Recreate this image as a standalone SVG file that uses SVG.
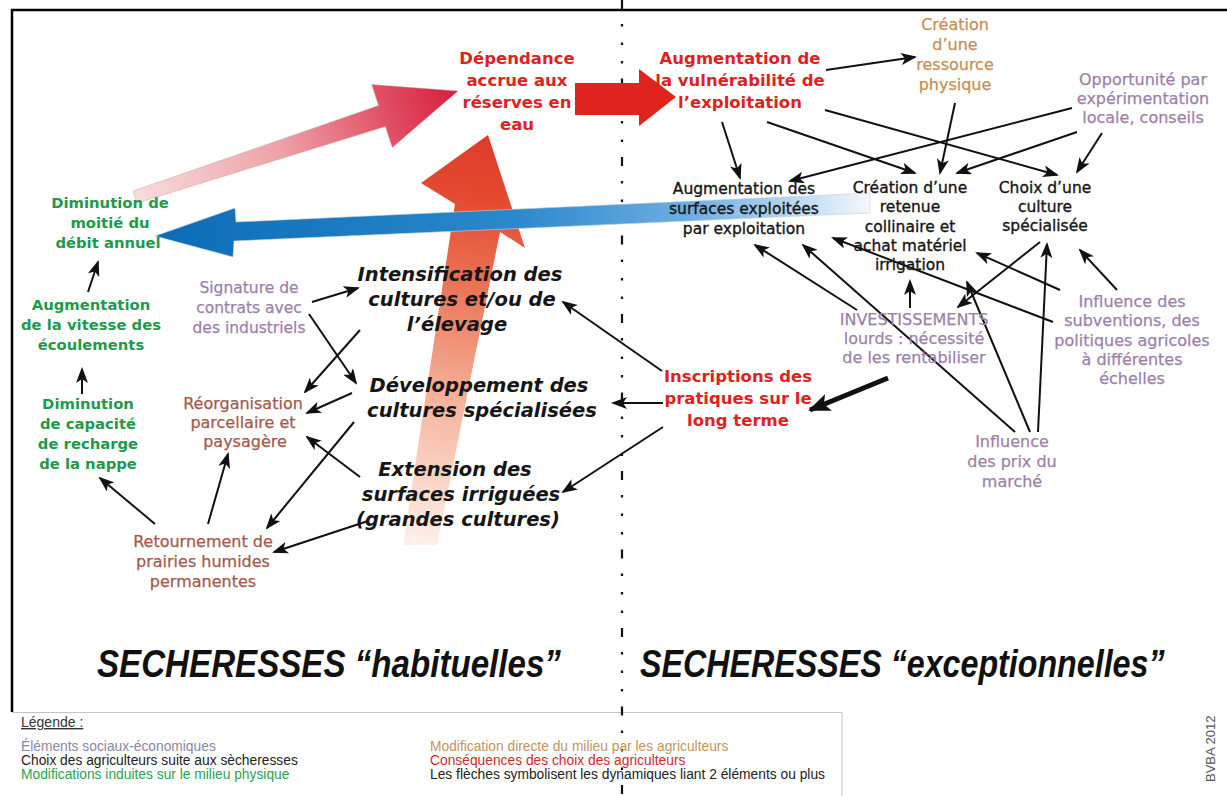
<svg xmlns="http://www.w3.org/2000/svg" width="1227" height="796" viewBox="0 0 1227 796">
<defs>
<style>
text{font-family:"DejaVu Sans","Liberation Sans",sans-serif;text-anchor:middle}
.red{font-size:16.5px;font-weight:bold;fill:#e0221f}
.blk{font-size:15.5px;fill:#161616;stroke:#161616;stroke-width:0.35}
.pur{font-size:16px;fill:#9d7fa9;stroke:#9d7fa9;stroke-width:0.25}
.tan{font-size:16px;fill:#c98d52;stroke:#c98d52;stroke-width:0.25}
.grn{font-size:14.8px;font-weight:bold;fill:#1e9a4c}
.brn{font-size:16px;fill:#a5584a;stroke:#a5584a;stroke-width:0.25}
.ital{font-size:19.5px;font-weight:bold;font-style:italic;fill:#161616}
.title{font-family:"Liberation Sans",sans-serif;font-size:38px;font-weight:bold;font-style:italic;fill:#111;text-anchor:start}
.leg{font-family:"Liberation Sans",sans-serif;font-size:13.8px;text-anchor:start}
</style>
<marker id="ah" viewBox="0 0 16 12" refX="14" refY="6" markerWidth="16" markerHeight="12" markerUnits="userSpaceOnUse" orient="auto"><path d="M0,0 L16,6 L0,12 L4,6 z" fill="#111" stroke="none"/></marker>
<marker id="ahT" viewBox="0 0 22 18" refX="20" refY="9" markerWidth="22" markerHeight="18" markerUnits="userSpaceOnUse" orient="auto"><path d="M0,0 L22,9 L0,18 L5,9 z" fill="#111" stroke="none"/></marker>
<linearGradient id="pinkG" gradientUnits="userSpaceOnUse" x1="135" y1="197" x2="458" y2="91">
<stop offset="0" stop-color="#f8dcdc"/><stop offset="0.45" stop-color="#eda2a8"/><stop offset="0.8" stop-color="#e04a60"/><stop offset="1" stop-color="#d81d3d"/>
</linearGradient>
<linearGradient id="upG" gradientUnits="userSpaceOnUse" x1="420" y1="545" x2="488" y2="135">
<stop offset="0" stop-color="#fdf0ea"/><stop offset="0.35" stop-color="#f5b49c"/><stop offset="0.65" stop-color="#ea7052"/><stop offset="0.85" stop-color="#e34a30"/><stop offset="1" stop-color="#e03a28"/>
</linearGradient>
<linearGradient id="blueG" gradientUnits="userSpaceOnUse" x1="155" y1="0" x2="870" y2="0">
<stop offset="0" stop-color="#0b6cb6"/><stop offset="0.5" stop-color="#2a88cc"/><stop offset="0.75" stop-color="#6eaee2"/><stop offset="0.9" stop-color="#bcdaf2"/><stop offset="1" stop-color="#f4f8fc"/>
</linearGradient>
</defs>
<rect width="1227" height="796" fill="#fff"/>
<path d="M12,712 V10 H1227" fill="none" stroke="#000" stroke-width="2.5"/>
<path d="M12,712.5 H842 V796" fill="none" stroke="#c4c4c4" stroke-width="1"/>
<line x1="622" y1="0" x2="622" y2="796" stroke="#111" stroke-width="2.2" stroke-dasharray="9 15 2.5 16 2.5 16 2.5 15"/>

<g id="big-arrows">
<polygon points="133,191 378.6,105.5 371.7,84.6 458,91 392.3,147.4 385.4,126.5 137,203" fill="url(#pinkG)" stroke="#c9a0a0" stroke-width="0.5"/>
<polygon points="575,83 639,83 639,69 676,97 639,126 639,115 575,115" fill="#df231e"/>
<polygon points="403,545 455,204 421,183 488,135 525,248 500,232 437,545" fill="url(#upG)"/>
<polygon points="870,193 236,222 235,208 155,236 233,257 234,241 870,213" fill="url(#blueG)" stroke="#c8d2dc" stroke-width="0.6"/>
</g>

<g id="connectors" stroke="#111" stroke-width="2" marker-end="url(#ah)" fill="none">
<line x1="88" y1="292" x2="98" y2="262"/>
<line x1="82" y1="394" x2="82" y2="369"/>
<line x1="155" y1="524" x2="100" y2="478"/>
<line x1="208" y1="524" x2="228" y2="454"/>
<line x1="312" y1="302" x2="358" y2="288"/>
<line x1="309" y1="314" x2="356" y2="383"/>
<line x1="360" y1="330" x2="305" y2="392"/>
<line x1="352" y1="393" x2="307" y2="413"/>
<line x1="354" y1="422" x2="267" y2="528"/>
<line x1="360" y1="477" x2="307" y2="437"/>
<line x1="368" y1="521" x2="274" y2="552"/>
<line x1="662" y1="371" x2="563" y2="302"/>
<line x1="663" y1="403" x2="613" y2="403"/>
<line x1="663" y1="427" x2="563" y2="492"/>
<line x1="888" y1="378" x2="810" y2="410" stroke-width="5" marker-end="url(#ahT)"/>
<line x1="826" y1="70" x2="915" y2="57"/>
<line x1="722" y1="122" x2="740" y2="178"/>
<line x1="767" y1="122" x2="915" y2="173"/>
<line x1="825" y1="110" x2="1057" y2="175"/>
<line x1="955" y1="103" x2="940" y2="173"/>
<line x1="1072" y1="108" x2="790" y2="181"/>
<line x1="1077" y1="132" x2="957" y2="173"/>
<line x1="1102" y1="133" x2="1077" y2="172"/>
<line x1="857" y1="310" x2="755" y2="245"/>
<line x1="1015" y1="432" x2="803" y2="245"/>
<line x1="1053" y1="322" x2="833" y2="238"/>
<line x1="910" y1="308" x2="910" y2="281"/>
<line x1="1060" y1="290" x2="977" y2="253"/>
<line x1="1040" y1="242" x2="958" y2="307"/>
<line x1="1038" y1="432" x2="1047" y2="244"/>
<line x1="1030" y1="432" x2="967" y2="282"/>
<line x1="1117" y1="290" x2="1080" y2="250"/>
</g>

<g id="n-dependance"><text class="red"><tspan x="517" y="64">Dépendance</tspan><tspan x="517" y="86">accrue aux</tspan><tspan x="517" y="108">réserves en</tspan><tspan x="517" y="130">eau</tspan></text></g>
<g id="n-vulnerabilite"><text class="red"><tspan x="740" y="64">Augmentation de</tspan><tspan x="740" y="86">la vulnérabilité de</tspan><tspan x="740" y="108">l’exploitation</tspan></text></g>
<g id="n-inscriptions"><text class="red"><tspan x="738" y="382">Inscriptions des</tspan><tspan x="738" y="404">pratiques sur le</tspan><tspan x="738" y="426">long terme</tspan></text></g>
<g id="n-ressource"><text class="tan"><tspan x="955" y="30">Création</tspan><tspan x="955" y="50">d’une</tspan><tspan x="955" y="70">ressource</tspan><tspan x="955" y="90">physique</tspan></text></g>
<g id="n-opportunite"><text class="pur"><tspan x="1143" y="85">Opportunité par</tspan><tspan x="1143" y="104">expérimentation</tspan><tspan x="1143" y="123">locale, conseils</tspan></text></g>
<g id="n-surfaces"><text class="blk"><tspan x="744" y="194">Augmentation des</tspan><tspan x="744" y="214">surfaces exploitées</tspan><tspan x="744" y="234">par exploitation</tspan></text></g>
<g id="n-retenue"><text class="blk"><tspan x="910" y="193">Création d’une</tspan><tspan x="910" y="212">retenue</tspan><tspan x="910" y="232">collinaire et</tspan><tspan x="910" y="251">achat matériel</tspan><tspan x="910" y="270">irrigation</tspan></text></g>
<g id="n-choix"><text class="blk"><tspan x="1045" y="193">Choix d’une</tspan><tspan x="1045" y="212">culture</tspan><tspan x="1045" y="231">spécialisée</tspan></text></g>
<g id="n-investissements"><text class="pur"><tspan x="914" y="325">INVESTISSEMENTS</tspan><tspan x="914" y="344">lourds : nécessité</tspan><tspan x="914" y="363">de les rentabiliser</tspan></text></g>
<g id="n-subventions"><text class="pur"><tspan x="1132" y="307">Influence des</tspan><tspan x="1132" y="326">subventions, des</tspan><tspan x="1132" y="346">politiques agricoles</tspan><tspan x="1132" y="365">à différentes</tspan><tspan x="1132" y="384">échelles</tspan></text></g>
<g id="n-prix"><text class="pur"><tspan x="1012" y="447">Influence</tspan><tspan x="1012" y="467">des prix du</tspan><tspan x="1012" y="487">marché</tspan></text></g>
<g id="n-intensification"><text class="ital"><tspan x="460" y="281">Intensification des</tspan><tspan x="462" y="306">cultures et/ou de</tspan><tspan x="457" y="331">l’élevage</tspan></text></g>
<g id="n-developpement"><text class="ital"><tspan x="479" y="392">Développement des</tspan><tspan x="482" y="417">cultures spécialisées</tspan></text></g>
<g id="n-extension"><text class="ital"><tspan x="455" y="476">Extension des</tspan><tspan x="461" y="501">surfaces irriguées</tspan><tspan x="458" y="526">(grandes cultures)</tspan></text></g>
<g id="n-debit"><text class="grn"><tspan x="110" y="208">Diminution de</tspan><tspan x="110" y="228">moitié du</tspan><tspan x="108" y="248">débit annuel</tspan></text></g>
<g id="n-vitesse"><text class="grn"><tspan x="91" y="310">Augmentation</tspan><tspan x="91" y="330">de la vitesse des</tspan><tspan x="91" y="350">écoulements</tspan></text></g>
<g id="n-recharge"><text class="grn"><tspan x="88" y="409">Diminution</tspan><tspan x="88" y="429">de capacité</tspan><tspan x="88" y="449">de recharge</tspan><tspan x="88" y="469">de la nappe</tspan></text></g>
<g id="n-signature"><text class="pur" style="font-size:15.5px"><tspan x="249" y="293">Signature de</tspan><tspan x="249" y="313">contrats avec</tspan><tspan x="249" y="333">des industriels</tspan></text></g>
<g id="n-reorganisation"><text class="brn"><tspan x="243" y="409">Réorganisation</tspan><tspan x="243" y="428">parcellaire et</tspan><tspan x="245" y="447">paysagère</tspan></text></g>
<g id="n-retournement"><text class="brn"><tspan x="203" y="547">Retournement de</tspan><tspan x="203" y="567">prairies humides</tspan><tspan x="203" y="587">permanentes</tspan></text></g>

<g id="titles">
<text class="title" transform="translate(97,677) scale(0.872,1)">SECHERESSES “habituelles”</text>
<text class="title" transform="translate(640,677) scale(0.848,1)">SECHERESSES “exceptionnelles”</text>
</g>

<g id="legend">
<text class="leg" x="21" y="727" fill="#333" text-decoration="underline" style="font-size:14px">Légende :</text>
<text class="leg" x="21" y="751" fill="#8a86a6">Éléments sociaux-économiques</text>
<text class="leg" x="21" y="765" fill="#222">Choix des agriculteurs suite aux sècheresses</text>
<text class="leg" x="21" y="779" fill="#2ba24e">Modifications induites sur le milieu physique</text>
<text class="leg" x="430" y="751" fill="#c4935e">Modification directe du milieu par les agriculteurs</text>
<text class="leg" x="430" y="765" fill="#d22a2a">Conséquences des choix des agriculteurs</text>
<text class="leg" x="430" y="779" fill="#222">Les flèches symbolisent les dynamiques liant 2 éléments ou plus</text>
<text class="leg" x="0" y="0" fill="#555" transform="translate(1215,782) rotate(-90)" style="font-size:13px">BVBA 2012</text>
</g>
</svg>
